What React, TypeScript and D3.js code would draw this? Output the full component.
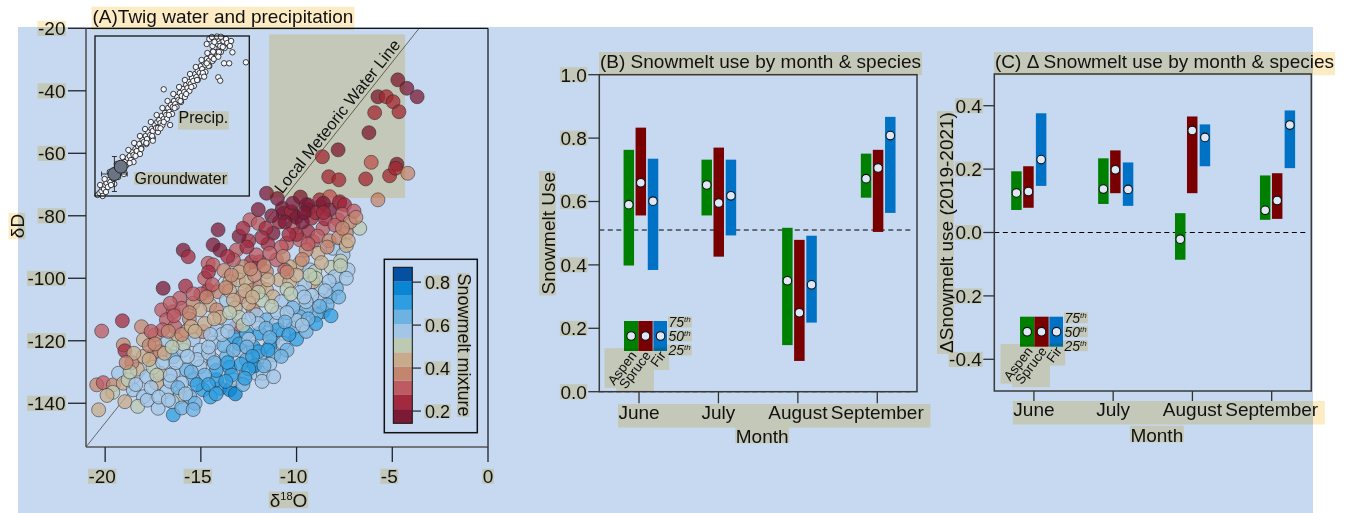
import React, { useEffect, useRef } from 'react';
import * as d3 from 'd3';

const W = 1347;
const H = 513;
const FONT = '"Liberation Sans", Arial, Helvetica, sans-serif';
const BG = '#c6d9f1';
const LABEL_BG = '#fdebc3';
const FS = 19;

// ---------------- Panel A data ----------------
// [δ18O, δD, snowmelt fraction]
const twigSamples: [number, number, number][] = [
  [-20.34, -142.1, 0.45], [-20.44, -134.1, 0.36], [-20.1, -133.4, 0.3], [-19.57, -134.1, 0.4],
  [-20.18, -116.9, 0.3], [-19.1, -113.6, 0.25], [-19.05, -121.3, 0.35], [-18.97, -123.2, 0.22],
  [-19.3, -130.4, 0.55], [-19.05, -133.6, 0.42], [-18.97, -139.5, 0.42], [-18.53, -135.7, 0.55],
  [-18.1, -115.5, 0.35], [-18.0, -119.7, 0.42], [-18.32, -129.1, 0.42], [-18.0, -137.9, 0.55],
  [-17.4, -118.1, 0.35], [-17.57, -125.1, 0.35], [-17.31, -133.6, 0.47], [-17.23, -141.6, 0.55],
  [-16.44, -143.7, 0.72], [-16.97, -103.2, 0.2], [-16.1, -106.4, 0.3], [-17.05, -110.1, 0.3],
  [-16.44, -110.7, 0.33], [-16.0, -109.6, 0.3], [-16.8, -113.3, 0.3], [-16.36, -115.5, 0.3],
  [-15.6, -113.0, 0.4], [-15.92, -91.0, 0.2], [-15.66, -93.1, 0.25], [-14.1, -84.5, 0.17],
  [-14.36, -89.3, 0.2], [-14.0, -91.0, 0.17], [-14.62, -95.2, 0.28], [-14.36, -95.7, 0.3],
  [-13.14, -91.0, 0.3], [-12.44, -81.3, 0.28], [-12.0, -82.4, 0.3], [-11.23, -85.6, 0.2],
  [-12.36, -94.7, 0.25], [-11.92, -94.7, 0.25], [-12.1, -92.5, 0.3], [-12.8, -96.3, 0.35],
  [-13.3, -94.1, 0.3],
  [-10.7, -79.2, 0.18], [-10.18, -79.7, 0.2], [-9.23, -80.8, 0.22], [-8.79, -77.1, 0.22],
  [-8.27, -78.1, 0.2], [-7.75, -76.0, 0.25], [-9.4, -76.5, 0.25], [-7.83, -81.3, 0.33],
  [-7.4, -85.6, 0.38], [-6.7, -84.0, 0.48], [-9.4, -85.1, 0.25], [-10.18, -83.5, 0.28],
  [-10.53, -88.8, 0.28], [-9.83, -87.7, 0.28], [-9.14, -88.3, 0.33], [-8.62, -84.0, 0.3],
  [-8.88, -92.0, 0.42], [-8.1, -90.4, 0.55], [-7.57, -92.5, 0.55], [-7.31, -97.3, 0.55],
  [-7.92, -103.2, 0.65], [-8.27, -105.9, 0.65], [-8.7, -103.2, 0.6], [-8.62, -110.7, 0.68],
  [-8.97, -111.7, 0.65], [-9.49, -110.1, 0.62], [-9.83, -112.3, 0.65], [-10.18, -116.0, 0.65],
  [-9.83, -95.2, 0.42], [-10.36, -96.3, 0.42], [-10.62, -97.3, 0.3], [-11.05, -94.1, 0.33],
  [-11.57, -97.9, 0.38], [-10.88, -100.5, 0.42], [-10.36, -101.1, 0.45], [-9.14, -101.1, 0.45],
  [-9.57, -102.1, 0.55], [-9.31, -97.3, 0.55], [-9.05, -97.9, 0.5],
  [-14.62, -103.7, 0.25], [-14.1, -104.3, 0.35], [-13.49, -101.1, 0.42], [-13.05, -100.5, 0.42],
  [-12.62, -101.1, 0.42], [-12.27, -103.7, 0.4], [-11.92, -102.7, 0.35], [-11.57, -103.7, 0.42],
  [-11.23, -105.9, 0.45], [-12.88, -105.9, 0.4], [-13.66, -107.0, 0.55], [-14.53, -108.5, 0.42],
  [-15.4, -108.0, 0.4], [-15.05, -110.1, 0.47], [-14.18, -110.1, 0.35], [-12.27, -110.1, 0.35],
  [-12.1, -111.7, 0.55], [-11.57, -113.3, 0.65], [-11.05, -114.4, 0.58], [-13.14, -115.5, 0.3],
  [-13.49, -114.4, 0.55], [-14.18, -116.5, 0.58], [-14.88, -117.1, 0.35], [-15.75, -117.1, 0.42],
  [-15.4, -119.7, 0.55], [-16.27, -119.7, 0.45], [-16.79, -120.8, 0.55], [-17.14, -123.5, 0.4],
  [-16.44, -125.1, 0.65], [-15.92, -123.0, 0.55], [-15.05, -123.0, 0.6], [-14.36, -120.8, 0.55],
  [-13.31, -118.7, 0.7], [-12.62, -117.6, 0.68], [-11.92, -117.6, 0.7], [-11.23, -119.7, 0.7],
  [-10.7, -117.6, 0.6], [-12.27, -121.9, 0.7], [-12.97, -123.0, 0.58], [-13.66, -125.1, 0.65],
  [-14.36, -126.1, 0.55], [-15.05, -128.3, 0.58], [-15.75, -129.3, 0.65], [-16.44, -130.4, 0.58],
  [-17.14, -130.4, 0.45], [-17.83, -131.5, 0.55], [-16.79, -136.3, 0.55], [-16.1, -137.9, 0.48],
  [-15.57, -137.9, 0.65], [-14.88, -135.7, 0.7], [-14.0, -135.2, 0.72], [-13.49, -135.7, 0.8],
  [-14.18, -132.5, 0.7], [-13.31, -132.5, 0.55], [-12.62, -130.4, 0.58], [-12.1, -130.4, 0.6],
  [-11.75, -130.4, 0.6], [-12.62, -126.1, 0.65], [-11.92, -125.1, 0.6], [-11.4, -121.9, 0.7],
  [-10.7, -120.8, 0.6], [-8.79, -107.0, 0.55],
  [-11.57, -72.8, 0.16], [-10.74, -77.6, 0.2], [-10.27, -78.7, 0.22], [-9.4, -78.1, 0.2],
  [-8.79, -74.9, 0.25], [-8.27, -73.9, 0.33], [-7.75, -75.5, 0.25], [-7.49, -76.5, 0.25],
  [-5.75, -74.9, 0.38], [-8.65, -61.1, 0.25], [-7.83, -58.9, 0.2], [-8.32, -67.5, 0.25],
  [-7.79, -68.5, 0.22], [-6.39, -68.2, 0.25], [-6.10, -62.9, 0.28], [-5.14, -67.2, 0.22],
  [-4.76, -63.5, 0.2], [-4.83, -64.8, 0.25], [-4.19, -66.4, 0.36], [-6.22, -53.4, 0.2],
  [-5.92, -47.0, 0.22], [-5.75, -41.9, 0.2], [-5.31, -41.9, 0.22], [-4.96, -43.5, 0.23],
  [-4.65, -46.7, 0.22], [-4.71, -36.5, 0.2], [-4.24, -39.2, 0.2], [-3.70, -41.9, 0.15],
  [-10.0, -80.5, 0.2], [-9.7, -82.0, 0.18], [-9.0, -79.0, 0.22], [-8.5, -81.0, 0.25],
  [-8.0, -83.0, 0.3], [-7.6, -79.5, 0.28], [-7.2, -82.0, 0.35], [-10.9, -82.0, 0.22],
  [-11.3, -80.0, 0.2], [-9.5, -76.5, 0.2], [-8.9, -86.5, 0.3], [-8.3, -88.0, 0.36],
  [-7.8, -87.0, 0.4], [-10.0, -86.0, 0.26], [-10.8, -90.0, 0.3], [-9.5, -91.0, 0.35],
  [-11.5, -89.0, 0.25], [-12.5, -88.0, 0.22], [-13.0, -86.5, 0.2], [-8.6, -76.0, 0.2],
  [-7.0, -78.5, 0.3], [-6.9, -80.5, 0.4], [-7.4, -89.5, 0.45],
  [-13.8, -97.5, 0.38], [-13.0, -98.0, 0.42], [-12.2, -99.0, 0.4], [-11.5, -100.5, 0.45],
  [-10.5, -103.5, 0.5], [-10.0, -99.0, 0.45], [-9.8, -104.5, 0.55], [-9.2, -105.5, 0.58],
  [-10.8, -107.5, 0.55], [-11.8, -107.0, 0.5], [-12.5, -108.0, 0.45], [-13.2, -109.5, 0.42],
  [-14.0, -112.5, 0.45], [-13.0, -112.5, 0.5], [-12.0, -114.5, 0.6], [-11.0, -111.0, 0.6],
  [-10.2, -109.5, 0.62], [-9.5, -107.5, 0.6], [-15.0, -105.0, 0.3], [-15.8, -102.5, 0.25],
  [-14.8, -100.0, 0.3], [-13.5, -104.0, 0.45], [-12.0, -104.5, 0.48], [-10.5, -98.0, 0.4],
  [-8.2, -96.5, 0.5], [-8.0, -99.5, 0.58], [-9.0, -100.0, 0.52], [-7.7, -94.5, 0.5],
  [-13.8, -121.5, 0.62], [-13.0, -121.0, 0.7], [-12.0, -123.5, 0.72], [-11.2, -124.5, 0.65],
  [-10.5, -123.0, 0.62], [-10.0, -119.5, 0.7], [-9.5, -117.0, 0.65], [-9.0, -114.5, 0.68],
  [-8.4, -108.5, 0.66], [-10.0, -113.5, 0.6], [-11.0, -116.5, 0.72], [-12.5, -119.5, 0.6],
  [-13.5, -128.5, 0.72], [-12.9, -127.5, 0.7], [-12.2, -128.0, 0.75], [-11.4, -127.5, 0.6],
  [-14.2, -129.5, 0.68], [-14.8, -131.0, 0.62], [-15.4, -132.5, 0.65], [-16.0, -133.5, 0.58],
  [-16.6, -133.0, 0.55], [-15.2, -126.0, 0.56], [-14.6, -124.0, 0.6], [-13.2, -137.0, 0.78],
  [-14.5, -138.0, 0.7], [-15.3, -140.0, 0.62], [-12.8, -134.0, 0.65], [-11.8, -133.0, 0.55],
  [-11.2, -131.5, 0.55], [-13.9, -118.0, 0.58], [-12.8, -115.0, 0.52], [-14.8, -114.5, 0.45],
  [-15.9, -121.0, 0.5],
  [-18.6, -127.0, 0.4], [-18.0, -125.0, 0.45], [-17.5, -128.5, 0.5], [-17.0, -127.0, 0.55],
  [-16.9, -124.0, 0.42], [-17.7, -121.5, 0.38], [-18.8, -132.5, 0.5], [-19.6, -136.5, 0.5],
  [-18.3, -141.0, 0.5], [-17.8, -139.0, 0.6], [-16.5, -139.5, 0.6], [-16.0, -141.5, 0.65],
  [-19.9, -137.5, 0.45], [-17.0, -116.5, 0.3], [-16.0, -118.0, 0.4], [-15.5, -115.5, 0.42],
  [-18.5, -124, 0.42], [-18.7, -130, 0.5], [-18.4, -134, 0.55], [-18.9, -127, 0.35],
  [-17.6, -117, 0.33], [-17.4, -121, 0.4], [-17.7, -126, 0.45], [-17.3, -131, 0.52], [-17.6, -135, 0.55], [-17.2, -138, 0.6],
  [-16.6, -108, 0.28], [-16.4, -112, 0.3], [-16.7, -117, 0.38], [-16.5, -122, 0.48], [-16.3, -127, 0.55], [-16.6, -131, 0.6],
  [-16.2, -135, 0.62], [-16.7, -139, 0.58],
  [-15.4, -105, 0.3], [-15.6, -111, 0.4], [-15.3, -117, 0.45], [-15.7, -125, 0.55], [-15.5, -130, 0.62], [-15.2, -134, 0.68],
  [-15.8, -137, 0.6], [-15.4, -142, 0.65],
  [-14.6, -98, 0.25], [-14.4, -102, 0.3], [-14.7, -106, 0.38], [-14.3, -113, 0.45], [-14.5, -118, 0.55], [-14.6, -122, 0.6],
  [-14.3, -127, 0.65], [-14.6, -134, 0.7], [-14.2, -137, 0.72],
  [-13.6, -93, 0.25], [-13.4, -99, 0.35], [-13.7, -103, 0.4], [-13.3, -107, 0.45], [-13.5, -111, 0.5], [-13.6, -117, 0.6],
  [-13.3, -123, 0.62], [-13.6, -127, 0.7], [-13.4, -131, 0.72], [-13.7, -133, 0.68],
  [-12.6, -90, 0.25], [-12.4, -97, 0.35], [-12.7, -104, 0.42], [-12.3, -106, 0.45], [-12.5, -113, 0.55], [-12.6, -122, 0.65],
  [-12.3, -125, 0.7], [-12.5, -129, 0.68], [-12.7, -132, 0.72],
  [-11.6, -84, 0.22], [-11.4, -92, 0.3], [-11.7, -96, 0.35], [-11.3, -109, 0.52], [-11.6, -116, 0.62], [-11.4, -119, 0.65],
  [-11.5, -123, 0.7], [-11.7, -128, 0.65],
  [-10.6, -82, 0.2], [-10.4, -86, 0.25], [-10.7, -93, 0.35], [-10.3, -105, 0.5], [-10.5, -111, 0.6], [-10.6, -114, 0.62],
  [-10.4, -118, 0.68], [-10.8, -125, 0.62],
  [-9.6, -79, 0.2], [-9.4, -89, 0.3], [-9.7, -94, 0.4], [-9.3, -99, 0.48], [-9.6, -106, 0.55], [-9.4, -113, 0.65], [-9.7, -115, 0.6],
  [-8.6, -79, 0.22], [-8.4, -90, 0.38], [-8.7, -95, 0.45], [-8.3, -101, 0.58], [-8.5, -104, 0.6], [-8.8, -109, 0.65], [-8.2, -112, 0.68],
  [-7.6, -84, 0.35], [-7.3, -88, 0.42], [-7.7, -96, 0.52], [-7.4, -100, 0.6], [-7.8, -106, 0.66],
  [-10.2, -76, 0.18], [-9.8, -74, 0.2], [-11.0, -74.5, 0.17], [-12.0, -78, 0.2], [-12.8, -84, 0.22], [-11.8, -87, 0.25],
];

// inset: precipitation samples [δ18O, δD]
const precipSamples: [number, number][] = [
  [-27.6, -209], [-27.3, -207], [-27.0, -205], [-26.9, -201], [-26.6, -203], [-26.4, -199], [-26.2, -197],
  [-26.0, -201], [-25.8, -194], [-25.6, -196], [-25.3, -190], [-25.1, -193], [-24.9, -187], [-24.7, -189],
  [-24.4, -184], [-24.2, -186], [-24.0, -180], [-23.8, -183], [-23.6, -178], [-23.3, -176], [-23.1, -179],
  [-22.9, -172], [-22.6, -170], [-22.4, -174], [-22.2, -166], [-22.0, -169], [-21.7, -163], [-21.5, -165],
  [-21.3, -160], [-21.1, -158], [-20.8, -162], [-20.6, -154], [-20.4, -156], [-20.1, -150], [-19.9, -153],
  [-19.7, -146], [-19.4, -149], [-19.2, -143], [-19.0, -145], [-18.7, -139], [-18.5, -142], [-18.3, -136],
  [-18.0, -134], [-17.8, -137], [-17.6, -130], [-17.3, -133], [-17.1, -127], [-16.9, -129], [-16.6, -122],
  [-16.4, -126], [-16.2, -119], [-15.9, -121], [-15.7, -115], [-15.5, -118], [-15.2, -111], [-15.0, -114],
  [-14.8, -107], [-14.5, -110], [-14.3, -103], [-14.1, -106], [-13.8, -99], [-13.6, -102], [-13.4, -96],
  [-13.1, -98], [-12.9, -92], [-12.7, -95], [-12.4, -88], [-12.2, -91], [-12.0, -85], [-11.7, -87],
  [-11.5, -80], [-11.3, -83], [-11.0, -77], [-10.8, -79], [-10.6, -73], [-10.3, -75], [-10.1, -69],
  [-9.9, -71], [-9.6, -65], [-9.4, -62], [-9.2, -66], [-8.9, -58], [-8.7, -55], [-8.5, -60],
  [-8.2, -52], [-8.0, -55],
  [-25.0, -198], [-23.5, -188], [-22.0, -176], [-21.0, -168], [-20.0, -158], [-19.0, -152], [-18.2, -146],
  [-17.5, -139], [-16.8, -133], [-16.0, -128], [-15.3, -121], [-14.6, -116], [-14.0, -111], [-13.3, -105],
  [-12.6, -100], [-12.0, -94], [-11.4, -90], [-10.8, -86], [-10.2, -80], [-9.7, -75], [-9.0, -70],
  [-8.4, -66], [-7.8, -62],
  [-27.2, -199], [-26.8, -210], [-26.5, -193], [-26.3, -206], [-25.7, -186], [-25.5, -199], [-24.6, -178],
  [-24.4, -191], [-23.7, -171], [-23.5, -184], [-22.8, -164], [-22.6, -177], [-21.9, -157], [-21.7, -170],
  [-21.0, -150], [-20.8, -163], [-20.2, -143], [-20.0, -157], [-19.3, -136], [-19.1, -150], [-18.4, -129],
  [-18.2, -142], [-17.5, -122], [-17.3, -136], [-16.7, -115], [-16.5, -129], [-15.8, -108], [-15.6, -122],
  [-14.9, -101], [-14.7, -115], [-14.0, -94], [-13.8, -108], [-13.2, -88], [-13.0, -101], [-12.3, -81],
  [-12.1, -94], [-11.4, -74], [-11.2, -87], [-10.5, -67], [-10.3, -80], [-9.7, -60], [-9.5, -73],
  [-8.9, -53], [-8.7, -66], [-9.3, -52], [-8.1, -61],
  [-10.2, -53], [-9.8, -51], [-9.0, -50.5], [-8.4, -50.8], [-7.6, -53], [-7.4, -57], [-7.0, -60], [-6.8, -55],
  [-9.4, -56], [-10.6, -58],
  [-6.6, -66.3], [-4.5, -76.3], [-7.9, -77.3], [-7.1, -77.3], [-8.8, -91.3], [-8.5, -94.7], [-11.0, -90.7],
  [-17.3, -103.3], [-16.3, -139], [-19.0, -154.7], [-17.8, -142.3], [-9.6, -65.7], [-8.8, -70.7], [-10.6, -77.3],
];
// groundwater means [δ18O, δD, ±δ18O, ±δD]
const groundwaterMeans: [number, number, number, number][] = [
  [-24.98, -188, 2.0, 17.5],
  [-23.98, -180.7, 0.5, 4],
];
const lmwlSlope = 7.7;
const lmwlIntercept = 7.7;
const xTicksA = [-20, -15, -10, -5, 0];
const yTicksA = [-140, -120, -100, -80, -60, -40, -20];
const mixtureBreaks = [0.143, 0.209, 0.275, 0.341, 0.407, 0.473, 0.539, 0.605, 0.671, 0.737, 0.803, 0.869];
const mixtureColors = ['#7b1a35', '#a32a3e', '#bd5a62', '#c4856f', '#c8ab8b', '#bccab2', '#a3c6e6', '#6eb2e2', '#2e9ee0', '#0885d3', '#0650a2'];
const mixtureTicks = [0.2, 0.4, 0.6, 0.8];

// ---------------- Panels B & C data ----------------
const months = ['June', 'July', 'August', 'September'];
const species = ['Aspen', 'Spruce', 'Fir'];
const speciesColors = ['#008000', '#780000', '#0072c6'];
// [25th, 50th, 75th] per month
const useAspen = [[0.398, 0.590, 0.763], [0.556, 0.652, 0.732], [0.147, 0.350, 0.517], [0.612, 0.672, 0.751]];
const useSpruce = [[0.556, 0.659, 0.833], [0.426, 0.595, 0.770], [0.097, 0.249, 0.479], [0.504, 0.706, 0.763]];
const useFir = [[0.384, 0.601, 0.735], [0.493, 0.618, 0.732], [0.218, 0.337, 0.492], [0.564, 0.808, 0.867]];
const deltaAspen = [[0.071, 0.125, 0.193], [0.090, 0.137, 0.234], [-0.086, -0.021, 0.061], [0.040, 0.070, 0.180]];
const deltaSpruce = [[0.078, 0.129, 0.209], [0.124, 0.198, 0.259], [0.124, 0.322, 0.366], [0.043, 0.101, 0.187]];
const deltaFir = [[0.147, 0.230, 0.376], [0.084, 0.136, 0.221], [0.209, 0.300, 0.341], [0.203, 0.339, 0.385]];
const yTicksB = [0, 0.2, 0.4, 0.6, 0.8, 1.0];
const yTicksC = [-0.4, -0.2, 0, 0.2, 0.4];
const refLinesB = [0.51, 0];
const refLinesC = [0];
const quantileLabels = ['75', '50', '25'];

type Pad = [number, number, number, number];
const PAD_TICK: Pad = [-2.7, 0.5, -3.2, 0.5];
const PAD_TITLE: Pad = [-1, 1, 3.3, 1];
const PAD_AXIS: Pad = [-1.5, 1, -2.7, 1];

export default function App() {
  const ref = useRef<SVGSVGElement>(null);

  useEffect(() => {
    const svgEl = ref.current!;
    const svg = d3.select(svgEl);
    svg.selectAll('*').remove();

    svg.append('rect').attr('width', W).attr('height', H).attr('fill', '#fff');
    svg.append('rect').attr('x', 18).attr('y', 27).attr('width', 1313 - 18).attr('height', H - 27).attr('fill', BG);

    const marks = svg.append('g');
    const boxLayer = svg.append('g').style('mix-blend-mode', 'multiply');
    const textLayer = svg.append('g').attr('font-family', FONT).attr('fill', '#111');

    const labels: { el: SVGTextElement; pad: Pad; group?: string }[] = [];
    const groupPads: Record<string, Pad> = {};

    function txt(o: {
      x: number; y: number; text?: string; size?: number; anchor?: string; rotate?: number;
      italic?: boolean; pad?: Pad | null; group?: string;
    }) {
      const t = textLayer.append('text')
        .attr('transform', `translate(${o.x},${o.y})` + (o.rotate ? ` rotate(${o.rotate})` : ''))
        .attr('font-size', o.size ?? FS)
        .attr('text-anchor', o.anchor ?? 'start');
      if (o.italic) t.attr('font-style', 'italic');
      if (o.text !== undefined) t.text(o.text);
      if (o.pad !== null) labels.push({ el: t.node() as SVGTextElement, pad: o.pad ?? PAD_TICK, group: o.group });
      return t;
    }

    // ================= Panel A =================
    const xA = d3.scaleLinear().domain([-21, 0]).range([86, 488]);
    const yA = d3.scaleLinear().domain([-154, -20]).range([447, 28.3]);
    const color = d3.scaleThreshold<number, string>().domain(mixtureBreaks.slice(1, -1)).range(mixtureColors);

    const gA = marks.append('g');
    const xTop = (yA.domain()[1] - lmwlIntercept) / lmwlSlope;
    const x0 = xA.domain()[0];
    gA.append('line')
      .attr('x1', xA(x0)).attr('y1', yA(lmwlSlope * x0 + lmwlIntercept))
      .attr('x2', xA(xTop)).attr('y2', yA(yA.domain()[1]))
      .attr('stroke', '#666').attr('stroke-width', 1);

    gA.append('g').selectAll('circle').data(twigSamples).join('circle')
      .attr('cx', d => xA(d[0])).attr('cy', d => yA(d[1])).attr('r', 7)
      .attr('fill', d => color(d[2])).attr('fill-opacity', 0.75)
      .attr('stroke', '#2a2a2a').attr('stroke-opacity', 0.6).attr('stroke-width', 0.9);

    gA.append('line').attr('x1', 86).attr('x2', 488).attr('y1', 28.3).attr('y2', 28.3).attr('stroke', '#111').attr('stroke-width', 1.2);
    gA.append('line').attr('x1', 488).attr('x2', 488).attr('y1', 28.3).attr('y2', 447).attr('stroke', '#111').attr('stroke-width', 1.2);
    gA.append('line').attr('x1', 86).attr('x2', 86).attr('y1', 28.3).attr('y2', 447).attr('stroke', '#555').attr('stroke-width', 1.6);
    gA.append('line').attr('x1', 86).attr('x2', 488).attr('y1', 447).attr('y2', 447).attr('stroke', '#555').attr('stroke-width', 1.6);
    yTicksA.forEach(v => {
      gA.append('line').attr('x1', 68).attr('x2', 86).attr('y1', yA(v)).attr('y2', yA(v)).attr('stroke', '#222').attr('stroke-width', 1.3);
      txt({ x: 65.5, y: yA(v) + 6.8, text: String(v), anchor: 'end' });
    });
    xTicksA.forEach(v => {
      gA.append('line').attr('x1', xA(v)).attr('x2', xA(v)).attr('y1', 447).attr('y2', 462).attr('stroke', '#222').attr('stroke-width', 1.3);
      txt({ x: xA(v) - (v < 0 ? 3 : 0), y: 483, text: String(v), anchor: 'middle' });
    });
    txt({ x: 92.5, y: 22.7, text: '(A)Twig water and precipitation', pad: PAD_TITLE });
    txt({ x: 24, y: 226, text: 'δD', anchor: 'middle', rotate: -90, pad: PAD_AXIS });
    const xl = txt({ x: 288.5, y: 507, anchor: 'middle', pad: PAD_AXIS });
    xl.append('tspan').text('δ');
    xl.append('tspan').attr('font-size', 11).attr('dy', -7).text('18');
    xl.append('tspan').attr('dy', 7).text('O');

    {
      const ly = -50;
      const lx = (ly - lmwlIntercept) / lmwlSlope;
      const px = xA(lx), py = yA(ly);
      const ang = Math.atan2(yA(lmwlSlope * (lx + 1) + lmwlIntercept) - py, xA(lx + 1) - px);
      const nx = Math.sin(ang), ny = -Math.cos(ang);
      txt({ x: px + 3.5 * nx, y: py + 3.5 * ny, text: 'Local Meteoric Water Line', size: 16.5, anchor: 'middle', rotate: (ang * 180) / Math.PI, pad: [1, 1, 1, 1] });
    }

    // inset
    const ix = d3.scaleLinear().domain([-28, -4]).range([95, 249.1]);
    const iy = d3.scaleLinear().domain([-210, -50]).range([196, 36]);
    const gI = marks.append('g');
    gI.append('g').selectAll('circle').data(precipSamples).join('circle')
      .attr('cx', d => ix(d[0])).attr('cy', d => iy(d[1])).attr('r', 2.7)
      .attr('fill', '#f3f6fc').attr('stroke', '#111').attr('stroke-width', 0.8);
    groundwaterMeans.forEach(([gx, gy, ex, ey]) => {
      const e = gI.append('g').attr('stroke', '#222').attr('stroke-width', 0.9);
      e.append('line').attr('x1', ix(gx - ex)).attr('x2', ix(gx + ex)).attr('y1', iy(gy)).attr('y2', iy(gy));
      e.append('line').attr('x1', ix(gx)).attr('x2', ix(gx)).attr('y1', iy(gy - ey)).attr('y2', iy(gy + ey));
      [gx - ex, gx + ex].forEach(v => e.append('line').attr('x1', ix(v)).attr('x2', ix(v)).attr('y1', iy(gy) - 2.5).attr('y2', iy(gy) + 2.5));
      [gy - ey, gy + ey].forEach(v => e.append('line').attr('x1', ix(gx) - 2.5).attr('x2', ix(gx) + 2.5).attr('y1', iy(v)).attr('y2', iy(v)));
    });
    groundwaterMeans.forEach(([gx, gy]) => {
      gI.append('circle').attr('cx', ix(gx)).attr('cy', iy(gy)).attr('r', 6.5)
        .attr('fill', '#6b7484').attr('stroke', '#222').attr('stroke-width', 1);
    });
    gI.append('rect').attr('x', 95).attr('y', 36).attr('width', 154.3).attr('height', 160)
      .attr('fill', 'none').attr('stroke', '#111').attr('stroke-width', 1.3);
    txt({ x: 178.5, y: 123.3, text: 'Precip.', size: 16, pad: [-2, 0.5, 3.3, 0.5] });
    txt({ x: 134.5, y: 184.3, text: 'Groundwater', size: 16, pad: [-1.9, 0.5, -2.7, 0.5] });

    // colour bar legend
    const yM = d3.scaleLinear().domain([mixtureBreaks[0], mixtureBreaks[mixtureBreaks.length - 1]]).range([423.3, 267.3]);
    const gL = marks.append('g');
    gL.append('rect').attr('x', 384.3).attr('y', 259.3).attr('width', 93).attr('height', 173.4)
      .attr('fill', 'none').attr('stroke', '#111').attr('stroke-width', 1.5);
    mixtureColors.forEach((c, i) => {
      gL.append('rect').attr('x', 393.3).attr('width', 19)
        .attr('y', yM(mixtureBreaks[i + 1])).attr('height', yM(mixtureBreaks[i]) - yM(mixtureBreaks[i + 1]))
        .attr('fill', c);
    });
    gL.append('rect').attr('x', 393.3).attr('y', yM(mixtureBreaks[mixtureBreaks.length - 1])).attr('width', 19)
      .attr('height', yM(mixtureBreaks[0]) - yM(mixtureBreaks[mixtureBreaks.length - 1]))
      .attr('fill', 'none').attr('stroke', '#111').attr('stroke-width', 1);
    mixtureTicks.forEach(v => {
      gL.append('line').attr('x1', 412.3).attr('x2', 421).attr('y1', yM(v)).attr('y2', yM(v)).attr('stroke', '#222').attr('stroke-width', 1.2);
      txt({ x: 425, y: yM(v) + 6.5, text: v.toFixed(1), size: 18 });
    });
    txt({ x: 457.5, y: 345, text: 'Snowmelt mixture', size: 18, anchor: 'middle', rotate: 90, pad: [-4, 0.5, -3.5, 0.5] });

    // ================= Panels B & C =================
    function boxPanel(cfg: {
      left: number; right: number; top: number; bottom: number; domain: [number, number];
      yTicks: number[]; refLines: number[]; data: number[][][]; offsets: number[]; shifts: number[];
      tickEnd: number; monthBaseline: number; title: string; yLabel: string; yLabelX: number;
      monthLabelY: number; legend: { x: number; y: number }; group: string;
    }) {
      const x = d3.scaleBand<string>().domain(months).range([cfg.left, cfg.right]);
      const y = d3.scaleLinear().domain(cfg.domain).range([cfg.bottom, cfg.top]);
      const g = marks.append('g');
      cfg.refLines.forEach(v => {
        g.append('line').attr('x1', cfg.left).attr('x2', cfg.right - 4).attr('y1', y(v)).attr('y2', y(v))
          .attr('stroke', '#000').attr('stroke-width', 1).attr('stroke-dasharray', '5,3.5');
      });
      const bw = 10.5;
      cfg.data.forEach((sp, si) => {
        sp.forEach((q, mi) => {
          const cx = x(months[mi])! + x.bandwidth() / 2 + cfg.shifts[mi] + cfg.offsets[si];
          g.append('rect').attr('x', cx - bw / 2).attr('width', bw)
            .attr('y', y(q[2])).attr('height', y(q[0]) - y(q[2])).attr('fill', speciesColors[si]);
          g.append('circle').attr('cx', cx).attr('cy', y(q[1])).attr('r', 4.3)
            .attr('fill', '#dde7f6').attr('stroke', '#111').attr('stroke-width', 1.1);
        });
      });
      g.append('rect').attr('x', cfg.left).attr('y', cfg.top).attr('width', cfg.right - cfg.left).attr('height', cfg.bottom - cfg.top)
        .attr('fill', 'none').attr('stroke', '#3a3a3a').attr('stroke-width', 1.5);
      cfg.yTicks.forEach(v => {
        g.append('line').attr('x1', cfg.left - 11).attr('x2', cfg.left).attr('y1', y(v)).attr('y2', y(v)).attr('stroke', '#333').attr('stroke-width', 1.3);
        txt({ x: cfg.left - 12.5, y: y(v) + 6.8, text: d3.format('.1f')(v).replace('−', '-'), anchor: 'end' });
      });
      months.forEach(m => {
        const cx = x(m)! + x.bandwidth() / 2;
        g.append('line').attr('x1', cx).attr('x2', cx).attr('y1', cfg.bottom).attr('y2', cfg.tickEnd).attr('stroke', '#333').attr('stroke-width', 1.3);
        txt({ x: cx, y: cfg.monthBaseline, text: m, anchor: 'middle', group: cfg.group });
      });
      groupPads[cfg.group] = [-2.5, 6, 5, 0.5];
      txt({ x: (cfg.left + cfg.right) / 2 + 4, y: cfg.monthLabelY, text: 'Month', anchor: 'middle', pad: [-1.3, 0.5, -3.2, 0.5] });
      txt({ x: cfg.left + 0.7, y: 68, text: cfg.title, pad: PAD_TITLE });
      txt({ x: cfg.yLabelX, y: (cfg.top + cfg.bottom) / 2, text: cfg.yLabel, anchor: 'middle', rotate: -90, pad: PAD_AXIS });

      // legend
      const lw = 43, lh = 30, cw = lw / 3;
      species.forEach((s, si) => {
        const lx = cfg.legend.x + si * cw + (si === 2 ? 0.7 : 0);
        g.append('rect').attr('x', lx).attr('y', cfg.legend.y).attr('width', cw - (si === 2 ? 0.7 : 0)).attr('height', lh).attr('fill', speciesColors[si]);
        const ccx = lx + cw / 2;
        g.append('circle').attr('cx', ccx).attr('cy', cfg.legend.y + lh / 2).attr('r', 4.3)
          .attr('fill', '#dde7f6').attr('stroke', '#111').attr('stroke-width', 1.1);
        txt({ x: ccx + 6, y: cfg.legend.y + lh + 4.5, text: s, size: 13.5, anchor: 'end', rotate: -53, pad: [0, 0, 0, 0] });
      });
      const qOff = [-9, 5, 19];
      quantileLabels.forEach((q, qi) => {
        const t = txt({ x: cfg.legend.x + lw + 1.5, y: cfg.legend.y + lh / 2 + qOff[qi], size: 14, italic: true, pad: [-2.5, 0.5, -2.5, 0.5] });
        t.append('tspan').text(q);
        t.append('tspan').attr('font-size', 8).attr('dy', -5).text('th');
      });
    }

    boxPanel({
      left: 599.3, right: 917, top: 74.7, bottom: 391.7, domain: [0, 1], yTicks: yTicksB, refLines: refLinesB,
      data: [useAspen, useSpruce, useFir], offsets: [-12, 0, 12.2], shifts: [1.8, 0.3, 1.5, 0.8],
      tickEnd: 403.3, monthBaseline: 418.5, title: '(B) Snowmelt use by month & species', yLabel: 'Snowmelt Use',
      yLabelX: 554.5, monthLabelY: 442.5, legend: { x: 624, y: 321 }, group: 'bx',
    });
    boxPanel({
      left: 994.3, right: 1311.3, top: 74, bottom: 391, domain: [-0.5, 0.5], yTicks: yTicksC, refLines: refLinesC,
      data: [deltaAspen, deltaSpruce, deltaFir], offsets: [-12, 0, 12.7], shifts: [-5.5, 2.2, -0.2, 5.5],
      tickEnd: 401, monthBaseline: 415.5, title: '(C) Δ Snowmelt use by month & species', yLabel: 'ΔSnowmelt use (2019-2021)',
      yLabelX: 952.5, monthLabelY: 441.5, legend: { x: 1020, y: 316.7 }, group: 'cx',
    });

    // ============ label background boxes ============
    const unions: Record<string, [number, number, number, number]> = {};
    labels.forEach(({ el, pad, group }) => {
      const bb = el.getBBox();
      const m = el.getCTM();
      if (!m) return;
      const [t, r, b, l] = group ? [0, 0, 0, 0] : pad;
      const pts = [
        [bb.x - l, bb.y - t], [bb.x + bb.width + r, bb.y - t],
        [bb.x + bb.width + r, bb.y + bb.height + b], [bb.x - l, bb.y + bb.height + b],
      ].map(([px, py]) => new DOMPoint(px, py).matrixTransform(m));
      const xs = pts.map(p => p.x), ys = pts.map(p => p.y);
      const box: [number, number, number, number] = [Math.min(...xs), Math.min(...ys), Math.max(...xs), Math.max(...ys)];
      if (group) {
        const u = unions[group];
        unions[group] = u ? [Math.min(u[0], box[0]), Math.min(u[1], box[1]), Math.max(u[2], box[2]), Math.max(u[3], box[3])] : box;
      } else {
        boxLayer.append('rect').attr('x', box[0]).attr('y', box[1]).attr('width', box[2] - box[0]).attr('height', box[3] - box[1]).attr('fill', LABEL_BG);
      }
    });
    Object.entries(unions).forEach(([k, u]) => {
      const [t, r, b, l] = groupPads[k] ?? [0, 0, 0, 0];
      boxLayer.append('rect').attr('x', u[0] - l).attr('y', u[1] - t).attr('width', u[2] - u[0] + l + r).attr('height', u[3] - u[1] + t + b).attr('fill', LABEL_BG);
    });
  }, []);

  return (
    <svg ref={ref} width={W} height={H} style={{ position: 'absolute', left: 0, top: 0, display: 'block' }} />
  );
}
